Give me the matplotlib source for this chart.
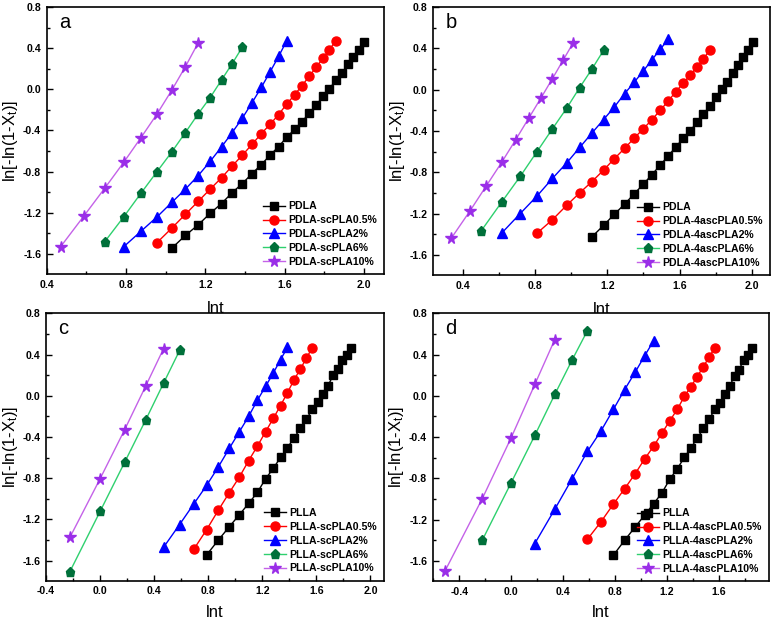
import matplotlib
matplotlib.use("Agg")
import matplotlib.pyplot as plt
from matplotlib.ticker import MultipleLocator, AutoMinorLocator, FormatStrFormatter

plt.rcParams['font.family'] = ['Liberation Sans', 'DejaVu Sans']
plt.rcParams['mathtext.fontset'] = 'custom'
plt.rcParams['mathtext.rm'] = 'Liberation Sans'
plt.rcParams['mathtext.it'] = 'Liberation Sans'

# ---------------- Panel a (PDLA / scPLA) ----------------
a_labels = ["PDLA", "PDLA-scPLA0.5%", "PDLA-scPLA2%", "PDLA-scPLA6%", "PDLA-scPLA10%"]
a_x0 = [1.030, 1.099, 1.163, 1.224, 1.281, 1.335, 1.386, 1.435, 1.482, 1.526, 1.569, 1.609,
        1.649, 1.686, 1.723, 1.758, 1.792, 1.825, 1.856, 1.887, 1.917, 1.946, 1.974, 2.001]
a_y0 = [-1.545, -1.42, -1.318, -1.205, -1.11, -1.004, -0.916, -0.819, -0.731, -0.64, -0.556, -0.468,
        -0.39, -0.316, -0.232, -0.154, -0.069, 0.002, 0.09, 0.158, 0.242, 0.313, 0.385, 0.459]
a_x1 = [0.956, 1.030, 1.099, 1.163, 1.224, 1.281, 1.335, 1.386, 1.435, 1.482, 1.526, 1.569,
        1.609, 1.649, 1.686, 1.723, 1.758, 1.792, 1.825, 1.856]
a_y1 = [-1.49, -1.35, -1.215, -1.09, -0.97, -0.86, -0.745, -0.64, -0.535, -0.43, -0.34, -0.245,
        -0.145, -0.055, 0.035, 0.125, 0.215, 0.30, 0.385, 0.47]
a_x2 = [0.788, 0.875, 0.956, 1.030, 1.099, 1.163, 1.224, 1.281, 1.335, 1.386, 1.435, 1.482,
        1.526, 1.569, 1.609]
a_y2 = [-1.53, -1.38, -1.24, -1.10, -0.97, -0.84, -0.70, -0.56, -0.42, -0.28, -0.13, 0.02,
        0.17, 0.32, 0.47]
a_x3 = [0.693, 0.788, 0.875, 0.956, 1.030, 1.099, 1.163, 1.224, 1.281, 1.335, 1.386]
a_y3 = [-1.48, -1.24, -1.01, -0.80, -0.61, -0.42, -0.24, -0.08, 0.09, 0.25, 0.41]
a_x4 = [0.470, 0.588, 0.693, 0.788, 0.875, 0.956, 1.030, 1.099, 1.163]
a_y4 = [-1.53, -1.23, -0.96, -0.71, -0.47, -0.24, -0.01, 0.22, 0.45]

# ---------------- Panel b (PDLA / 4ascPLA) ----------------
b_labels = ["PDLA", "PDLA-4ascPLA0.5%", "PDLA-4ascPLA2%", "PDLA-4ascPLA6%", "PDLA-4ascPLA10%"]
b_x0 = [1.115, 1.179, 1.238, 1.295, 1.348, 1.399, 1.447, 1.493, 1.537, 1.579, 1.619, 1.658,
        1.696, 1.732, 1.766, 1.800, 1.833, 1.864, 1.895, 1.924, 1.953, 1.981, 2.008]
b_y0 = [-1.425, -1.315, -1.208, -1.11, -1.01, -0.916, -0.822, -0.731, -0.64, -0.556, -0.471, -0.40,
        -0.315, -0.238, -0.16, -0.076, 0.002, 0.077, 0.158, 0.236, 0.313, 0.385, 0.459]
b_x1 = [0.811, 0.896, 0.975, 1.047, 1.115, 1.179, 1.238, 1.295, 1.348, 1.399, 1.447, 1.493,
        1.537, 1.579, 1.619, 1.658, 1.696, 1.732, 1.766]
b_y1 = [-1.39, -1.26, -1.12, -1.00, -0.89, -0.78, -0.67, -0.57, -0.47, -0.38, -0.29, -0.20,
        -0.11, -0.02, 0.06, 0.14, 0.22, 0.30, 0.38]
b_x2 = [0.615, 0.718, 0.811, 0.896, 0.975, 1.047, 1.115, 1.179, 1.238, 1.295, 1.348, 1.399,
        1.447, 1.493, 1.537]
b_y2 = [-1.39, -1.20, -1.03, -0.86, -0.71, -0.56, -0.42, -0.29, -0.17, -0.04, 0.07, 0.18,
        0.29, 0.39, 0.49]
b_x3 = [0.501, 0.615, 0.718, 0.811, 0.896, 0.975, 1.047, 1.115, 1.179]
b_y3 = [-1.37, -1.09, -0.84, -0.60, -0.38, -0.18, 0.02, 0.20, 0.38]
b_x4 = [0.336, 0.438, 0.531, 0.615, 0.693, 0.765, 0.833, 0.896, 0.956, 1.012]
b_y4 = [-1.44, -1.18, -0.93, -0.705, -0.485, -0.277, -0.08, 0.106, 0.287, 0.456]

# ---------------- Panel c (PLLA / scPLA) ----------------
c_labels = ["PLLA", "PLLA-scPLA0.5%", "PLLA-scPLA2%", "PLLA-scPLA6%", "PLLA-scPLA10%"]
c_x0 = [0.788, 0.875, 0.956, 1.030, 1.099, 1.163, 1.224, 1.281, 1.335, 1.386, 1.435, 1.482,
        1.526, 1.569, 1.609, 1.649, 1.686, 1.723, 1.758, 1.792, 1.825, 1.856]
c_y0 = [-1.545, -1.40, -1.271, -1.155, -1.045, -0.939, -0.806, -0.706, -0.597, -0.503, -0.41, -0.316,
        -0.229, -0.132, -0.065, 0.013, 0.097, 0.197, 0.255, 0.348, 0.397, 0.465]
c_x1 = [0.693, 0.788, 0.875, 0.956, 1.030, 1.099, 1.163, 1.224, 1.281, 1.335, 1.386, 1.435,
        1.482, 1.526, 1.569]
c_y1 = [-1.49, -1.30, -1.11, -0.94, -0.79, -0.63, -0.49, -0.35, -0.22, -0.095, 0.03, 0.155,
        0.26, 0.365, 0.465]
c_x2 = [0.470, 0.588, 0.693, 0.788, 0.875, 0.956, 1.030, 1.099, 1.163, 1.224, 1.281, 1.335, 1.386]
c_y2 = [-1.47, -1.25, -1.05, -0.87, -0.69, -0.51, -0.35, -0.20, -0.045, 0.09, 0.22, 0.35, 0.47]
c_x3 = [-0.223, 0.000, 0.182, 0.336, 0.470, 0.588]
c_y3 = [-1.706, -1.123, -0.645, -0.239, 0.123, 0.439]
c_x4 = [-0.223, 0.000, 0.182, 0.336, 0.470]
c_y4 = [-1.374, -0.806, -0.329, 0.090, 0.458]

# ---------------- Panel d (PLLA / 4ascPLA) ----------------
d_labels = ["PLLA", "PLLA-4ascPLA0.5%", "PLLA-4ascPLA2%", "PLLA-4ascPLA6%", "PLLA-4ascPLA10%"]
d_x0 = c_x0
d_y0 = c_y0
d_x1 = [0.588, 0.693, 0.788, 0.875, 0.956, 1.030, 1.099, 1.163, 1.224, 1.281, 1.335, 1.386,
        1.435, 1.482, 1.526, 1.569]
d_y1 = [-1.39, -1.22, -1.05, -0.90, -0.755, -0.61, -0.487, -0.36, -0.24, -0.13, -0.006, 0.090,
        0.187, 0.284, 0.374, 0.465]
d_x2 = [0.182, 0.336, 0.470, 0.588, 0.693, 0.788, 0.875, 0.956, 1.030, 1.099]
d_y2 = [-1.432, -1.10, -0.803, -0.539, -0.339, -0.132, 0.061, 0.229, 0.39, 0.535]
d_x3 = [-0.223, 0.000, 0.182, 0.336, 0.470, 0.588]
d_y3 = [-1.40, -0.842, -0.384, 0.013, 0.348, 0.632]
d_x4 = [-0.511, -0.223, 0.000, 0.182, 0.336]
d_y4 = [-1.70, -0.997, -0.406, 0.110, 0.545]

panel_letters = ["a", "b", "c", "d"]
x_label = "lnt"
y_label = "ln[-ln(1-X$_t$)]"

# styles
line_colors = ["#000000", "#ff0000", "#0000ff", "#2ed06e", "#c462e8"]
marker_colors = ["#000000", "#ff0000", "#0000ff", "#00703a", "#9a2ee8"]
markers = ["s", "o", "^", "p", "*"]
msizes = [5.5, 6.5, 6.5, 6.5, 8.5]

fig = plt.figure(figsize=(7.82, 6.21), dpi=100)

positions = [
    [46.7 / 782, 1 - 274 / 621, (384 - 46.7) / 782, (274 - 7) / 621],
    [433.3 / 782, 1 - 275 / 621, (770 - 433.3) / 782, (275 - 7) / 621],
    [46.0 / 782, 1 - 580.7 / 621, (384 - 46.0) / 782, (580.7 - 313.3) / 621],
    [432.7 / 782, 1 - 581 / 621, (769.3 - 432.7) / 782, (581 - 313.3) / 621],
]
xlims = [(0.40, 2.10), (0.237, 2.10), (-0.40, 2.10), (-0.605, 1.99)]
xlabelpads = [8, 8, 6, 6]

panels = [
    (a_labels, [(a_x0, a_y0), (a_x1, a_y1), (a_x2, a_y2), (a_x3, a_y3), (a_x4, a_y4)]),
    (b_labels, [(b_x0, b_y0), (b_x1, b_y1), (b_x2, b_y2), (b_x3, b_y3), (b_x4, b_y4)]),
    (c_labels, [(c_x0, c_y0), (c_x1, c_y1), (c_x2, c_y2), (c_x3, c_y3), (c_x4, c_y4)]),
    (d_labels, [(d_x0, d_y0), (d_x1, d_y1), (d_x2, d_y2), (d_x3, d_y3), (d_x4, d_y4)]),
]

for i, (labels, series) in enumerate(panels):
    ax = fig.add_axes(positions[i])
    for k, (xs, ys) in enumerate(series):
        ax.plot(xs, ys, color=line_colors[k], lw=1.0, marker=markers[k],
                markersize=msizes[k], markerfacecolor=marker_colors[k],
                markeredgecolor=marker_colors[k], label=labels[k])
    ax.set_xlim(*xlims[i])
    ax.set_ylim(-1.795, 0.8)
    ax.xaxis.set_major_locator(MultipleLocator(0.4))
    ax.yaxis.set_major_locator(MultipleLocator(0.4))
    ax.xaxis.set_minor_locator(AutoMinorLocator(2))
    ax.yaxis.set_minor_locator(AutoMinorLocator(2))
    ax.tick_params(which="both", direction="in", top=False, right=False)
    ax.tick_params(which="major", length=4, width=1.0, labelsize=7.6, pad=4)
    ax.tick_params(which="minor", length=2.5, width=1.0)
    ax.xaxis.set_major_formatter(FormatStrFormatter("%.1f"))
    ax.yaxis.set_major_formatter(FormatStrFormatter("%.1f"))
    for lab in ax.get_xticklabels() + ax.get_yticklabels():
        lab.set_fontweight("bold")
    for sp in ax.spines.values():
        sp.set_linewidth(1.2)
    ax.set_xlabel(x_label, fontsize=12, labelpad=xlabelpads[i])
    ax.set_ylabel(y_label, fontsize=12, labelpad=2)
    ax.text(0.036, 0.922, panel_letters[i], transform=ax.transAxes, fontsize=14.5,
            ha="left", va="baseline")
    leg = ax.legend(loc="lower right", frameon=False, handlelength=2.1,
                    handletextpad=0.3, labelspacing=0.36, borderaxespad=0.3,
                    prop={"size": 7.6, "weight": "bold"})

fig.savefig("out.png", dpi=100)
